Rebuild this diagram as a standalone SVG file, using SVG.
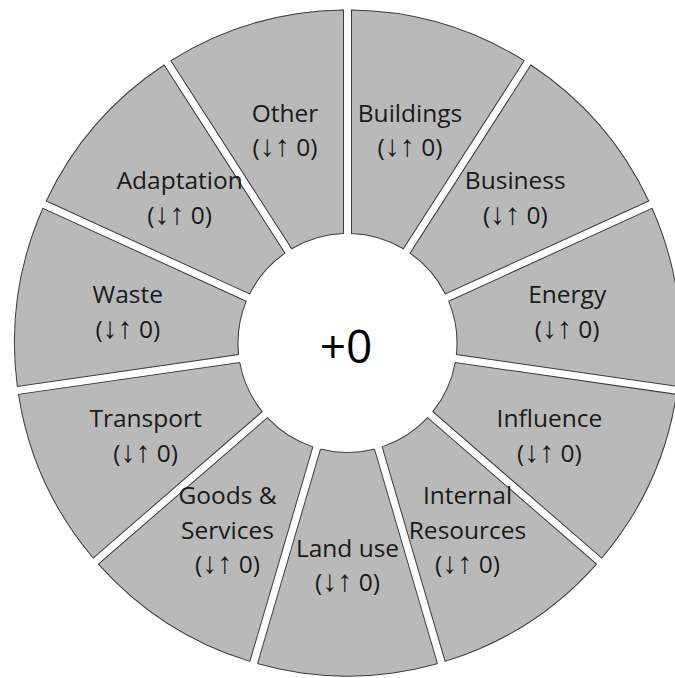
<svg xmlns="http://www.w3.org/2000/svg" xmlns:xlink="http://www.w3.org/1999/xlink" width="675" height="678" viewBox="0 0 675 678">
<style>
.seg{fill:#b9b9b9;stroke:#3c3c3c;stroke-width:1;}
.lbl{font-family:"Open Sans","Noto Sans","DejaVu Sans",sans-serif;font-size:24.5px;fill:#1a1a1a;text-anchor:middle;}
.ar{font-family:"Liberation Sans","Noto Sans",sans-serif;font-size:30px;}
.ctr{font-family:"Open Sans","Noto Sans","DejaVu Sans",sans-serif;font-size:46px;fill:#000;text-anchor:middle;}
</style>
<defs>
<path id="seg" d="M-89.98,-320.64 A333,333 0 0 1 89.98,-320.64 L26.99,-106.12 A109.5,109.5 0 0 0 -26.99,-106.12 Z"/>
</defs>
<rect width="675" height="678" fill="#fff"/>
<g id="connectors"/>
<g id="buildings">
<use xlink:href="#seg" class="seg" transform="translate(347.5 343) rotate(16.364)"/>
<text class="lbl" x="410" y="121.8">Buildings<tspan x="410" dy="34.5">(<tspan class="ar">↓↑</tspan> 0)</tspan></text>
</g>
<g id="business">
<use xlink:href="#seg" class="seg" transform="translate(347.5 343) rotate(49.091)"/>
<text class="lbl" x="515.3" y="189.4">Business<tspan x="515.3" dy="34.5">(<tspan class="ar">↓↑</tspan> 0)</tspan></text>
</g>
<g id="energy">
<use xlink:href="#seg" class="seg" transform="translate(347.5 343) rotate(81.818)"/>
<text class="lbl" x="567.2" y="303.2">Energy<tspan x="567.2" dy="34.5">(<tspan class="ar">↓↑</tspan> 0)</tspan></text>
</g>
<g id="influence">
<use xlink:href="#seg" class="seg" transform="translate(347.5 343) rotate(114.545)"/>
<text class="lbl" x="549.4" y="427">Influence<tspan x="549.4" dy="34.5">(<tspan class="ar">↓↑</tspan> 0)</tspan></text>
</g>
<g id="internal-resources">
<use xlink:href="#seg" class="seg" transform="translate(347.5 343) rotate(147.273)"/>
<text class="lbl" x="467.5" y="504.3">Internal<tspan x="467.5" dy="34.5">Resources</tspan><tspan x="467.5" dy="34.5">(<tspan class="ar">↓↑</tspan> 0)</tspan></text>
</g>
<g id="land-use">
<use xlink:href="#seg" class="seg" transform="translate(347.5 343) rotate(180)"/>
<text class="lbl" x="347.5" y="556.8">Land use<tspan x="347.5" dy="34.5">(<tspan class="ar">↓↑</tspan> 0)</tspan></text>
</g>
<g id="goods-services">
<use xlink:href="#seg" class="seg" transform="translate(347.5 343) rotate(212.727)"/>
<text class="lbl" x="227.5" y="504.3">Goods &amp;<tspan x="227.5" dy="34.5">Services</tspan><tspan x="227.5" dy="34.5">(<tspan class="ar">↓↑</tspan> 0)</tspan></text>
</g>
<g id="transport">
<use xlink:href="#seg" class="seg" transform="translate(347.5 343) rotate(245.455)"/>
<text class="lbl" x="145.6" y="427">Transport<tspan x="145.6" dy="34.5">(<tspan class="ar">↓↑</tspan> 0)</tspan></text>
</g>
<g id="waste">
<use xlink:href="#seg" class="seg" transform="translate(347.5 343) rotate(278.182)"/>
<text class="lbl" x="127.8" y="303.2">Waste<tspan x="127.8" dy="34.5">(<tspan class="ar">↓↑</tspan> 0)</tspan></text>
</g>
<g id="adaptation">
<use xlink:href="#seg" class="seg" transform="translate(347.5 343) rotate(310.909)"/>
<text class="lbl" x="179.7" y="189.4">Adaptation<tspan x="179.7" dy="34.5">(<tspan class="ar">↓↑</tspan> 0)</tspan></text>
</g>
<g id="other">
<use xlink:href="#seg" class="seg" transform="translate(347.5 343) rotate(343.636)"/>
<text class="lbl" x="285" y="121.8">Other<tspan x="285" dy="34.5">(<tspan class="ar">↓↑</tspan> 0)</tspan></text>
</g>
<g id="center">
<text class="ctr" x="346" y="363.3">+0</text>
</g>
</svg>
